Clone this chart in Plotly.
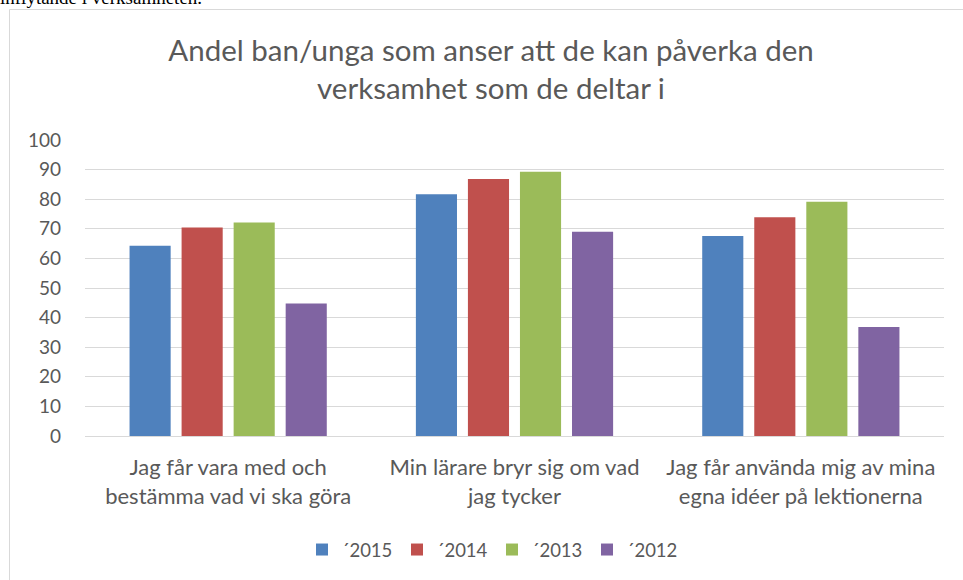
import plotly.graph_objects as go

categories = [
    "Jag får vara med och<br>bestämma vad vi ska göra",
    "Min lärare bryr sig om vad<br>jag tycker",
    "Jag får använda mig av mina<br>egna idéer på lektionerna",
]
series_names = ["´2015", "´2014", "´2013", "´2012"]
values_2015 = [64.3, 81.7, 67.6]
values_2014 = [70.4, 86.8, 73.9]
values_2013 = [72.1, 89.3, 79.1]
values_2012 = [44.8, 69.0, 36.8]
colors = ["#4F81BD", "#C0504D", "#9BBB59", "#8064A2"]
y_ticks = [0, 10, 20, 30, 40, 50, 60, 70, 80, 90, 100]

title_text = "Andel ban/unga som anser att de kan påverka den<br>verksamhet som de deltar i"
doc_text = "inflytande i verksamheten."

W, H = 963, 580
ML, MR, MT, MB = 85, 19, 140, 144
PW, PH = W - ML - MR, H - MT - MB

def px_x(p):
    return (p - ML) / PW

def px_y(p):
    return (H - MB - p) / PH

FONT = "Lato, 'Open Sans', sans-serif"
GREY = "#595959"

fig = go.Figure()
for name, vals, col in zip(series_names,
                           [values_2015, values_2014, values_2013, values_2012],
                           colors):
    fig.add_trace(go.Bar(x=categories, y=vals, name=name,
                         marker=dict(color=col, line=dict(width=0))))

fig.update_layout(
    width=W, height=H,
    margin=dict(l=ML, r=MR, t=MT, b=MB, autoexpand=False),
    paper_bgcolor="white", plot_bgcolor="white",
    barmode="group", bargap=0.273, bargroupgap=0.21,
    font=dict(family=FONT, color=GREY, size=19),
    title=dict(text=title_text, x=491 / W, xanchor="center",
               y=1 - 61 / H, yanchor="top", yref="container",
               font=dict(family=FONT, size=29.5, color=GREY)),
    legend=dict(orientation="h", x=px_x(302), xanchor="left",
                y=px_y(531), yanchor="top",
                font=dict(family=FONT, size=18.5, color=GREY),
                entrywidth=50, entrywidthmode="pixels",
                bgcolor="rgba(0,0,0,0)"),
    showlegend=True,
)
fig.update_yaxes(range=[0, 100], tickvals=y_ticks, showgrid=True,
                 gridcolor="#D9D9D9", gridwidth=1, zeroline=False,
                 showline=False, ticks="", ticklabelstandoff=23,
                 tickfont=dict(family=FONT, size=19, color=GREY))
fig.update_xaxes(showline=True, linecolor="#D9D9D9", linewidth=1, ticks="",
                 tickfont=dict(family=FONT, size=22, color=GREY),
                 ticklabelstandoff=12)

# chart outer border (extends beyond right/bottom of the picture)
fig.add_shape(type="rect", xref="paper", yref="paper",
              x0=px_x(9.5), y0=px_y(H + 20), x1=px_x(W + 20), y1=px_y(9.5),
              line=dict(color="#D9D9D9", width=1), fillcolor="rgba(0,0,0,0)",
              layer="below")

# cut-off document text above the chart
fig.add_annotation(text=doc_text, xref="paper", yref="paper",
                   x=px_x(-2), xanchor="left", y=px_y(10), yanchor="bottom",
                   showarrow=False,
                   font=dict(family="'Liberation Serif', serif", size=19,
                             color="#000000"))

fig.write_html("out.html",
               config={"displayModeBar": False},
               post_script="document.body.style.margin='0';")
